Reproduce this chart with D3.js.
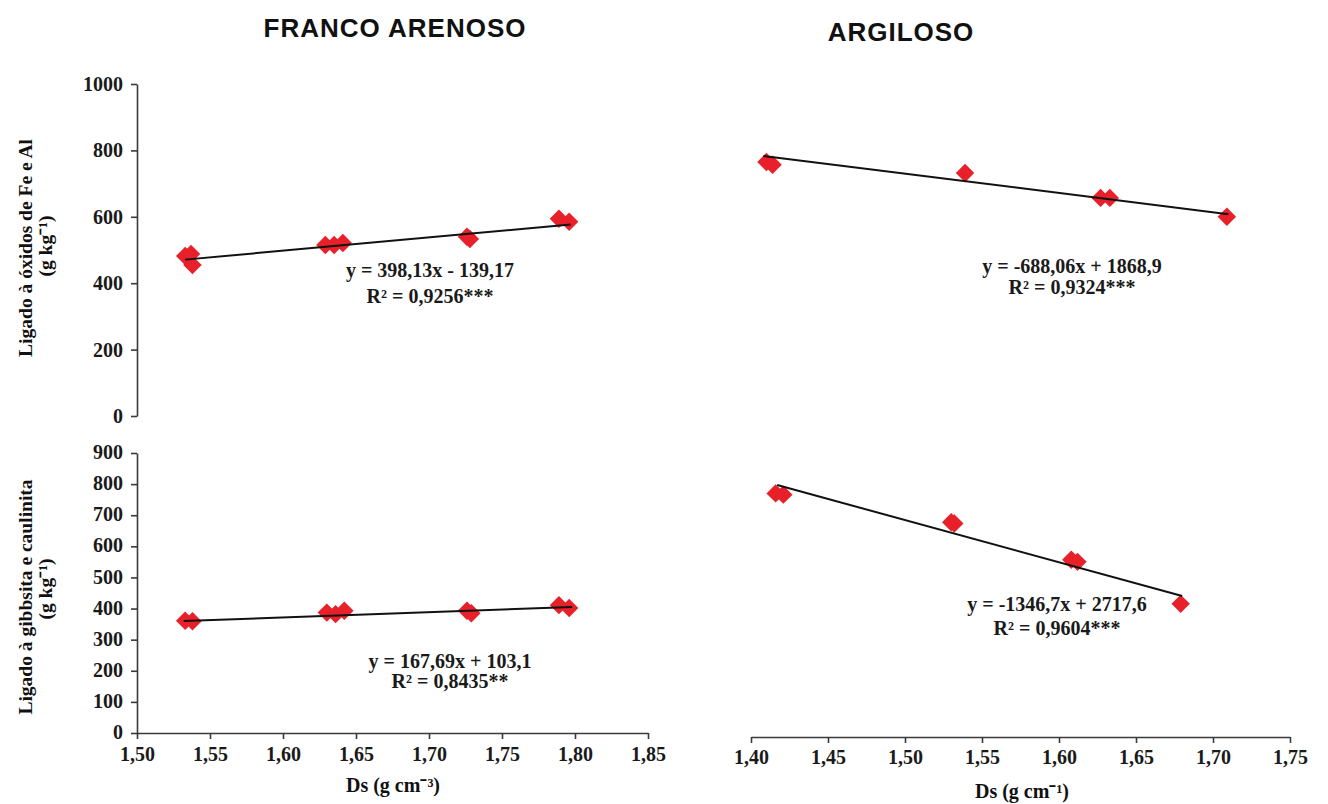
<!DOCTYPE html>
<html>
<head>
<meta charset="utf-8">
<script src="https://cdn.jsdelivr.net/npm/d3@7"></script>
<style>
  body { margin: 0; background: #fff; }
  svg { display: block; }
</style>
</head>
<body>
<div id="chart"></div>
<script>
// Franco arenoso, ligado a óxidos de Fe e Al
const faOxX = [1.533, 1.537, 1.538, 1.629, 1.635, 1.641, 1.726, 1.728, 1.789, 1.796];
const faOxY = [482, 488, 455, 515, 515, 521, 540, 533, 594, 585];
const faOxTrend = [[1.533, 471], [1.797, 577]];
// Argiloso, ligado a óxidos de Fe e Al
const arOxX = [1.410, 1.414, 1.539, 1.627, 1.633, 1.709];
const arOxY = [765, 757, 732, 657, 657, 600];
const arOxTrend = [[1.408, 783], [1.710, 608]];
// Franco arenoso, ligado a gibbsita e caulinita
const faGbX = [1.533, 1.538, 1.630, 1.636, 1.642, 1.726, 1.729, 1.789, 1.796];
const faGbY = [361, 359, 387, 382, 393, 393, 385, 411, 402];
const faGbTrend = [[1.532, 360], [1.798, 405]];
// Argiloso, ligado a gibbsita e caulinita
const arGbX = [1.416, 1.421, 1.530, 1.532, 1.608, 1.612, 1.679];
const arGbY = [783, 779, 690, 686, 570, 563, 428];
const arGbTrend = [[1.417, 810], [1.680, 453]];

const titles = ["FRANCO ARENOSO", "ARGILOSO"];
const eqs = [
  ["y = 398,13x - 139,17", "R² = 0,9256***"],
  ["y = -688,06x + 1868,9", "R² = 0,9324***"],
  ["y = 167,69x + 103,1", "R² = 0,8435**"],
  ["y = -1346,7x + 2717,6", "R² = 0,9604***"]
];
const yTitles = [["Ligado à óxidos de Fe e Al", "(g kg⁻¹)"], ["Ligado à gibbsita e caulinita", "(g kg⁻¹)"]];
const xTitles = ["Ds (g cm⁻³)", "Ds (g cm⁻¹)"];
const xTicksLeft = [1.50, 1.55, 1.60, 1.65, 1.70, 1.75, 1.80, 1.85];
const xTicksRight = [1.40, 1.45, 1.50, 1.55, 1.60, 1.65, 1.70, 1.75];
const yTicksTop = [0, 200, 400, 600, 800, 1000];
const yTicksBottom = [0, 100, 200, 300, 400, 500, 600, 700, 800, 900];

const width = 1328, height = 804;
const serif = "'Liberation Serif', 'Times New Roman', serif";
const red = "#e8202a";

const br = d3.formatLocale({decimal: ",", thousands: "", grouping: [3], currency: ["", ""]});
const fx = br.format(".2f");
const fy = br.format("d");

const xL = d3.scaleLinear().domain([1.50, 1.85]).range([137, 648]);
const xR = d3.scaleLinear().domain([1.40, 1.75]).range([751, 1290]);
const yT = d3.scaleLinear().domain([0, 1000]).range([416, 84]);
const yB = d3.scaleLinear().domain([0, 900]).range([733, 453]);
const yBR = d3.scaleLinear().domain([0, 900]).range([737, 457]);

const svg = d3.select("#chart").append("svg")
  .attr("width", width).attr("height", height)
  .attr("viewBox", [0, 0, width, height]);

function styleAxis(g) {
  g.selectAll(".domain").attr("stroke", "#3a3a3a").attr("stroke-width", 1.6);
  g.selectAll(".tick line").attr("stroke", "#3a3a3a").attr("stroke-width", 1.6);
  g.selectAll(".tick text")
    .attr("font-family", serif).attr("font-weight", "bold")
    .attr("font-size", 20).attr("fill", "#1a1a1a");
}

// eixos
svg.append("g").attr("transform", `translate(${xL(1.50)},0)`)
  .call(d3.axisLeft(yT).tickValues(yTicksTop).tickFormat(fy).tickSize(6).tickPadding(8).tickSizeOuter(0))
  .call(styleAxis);
svg.append("g").attr("transform", `translate(${xL(1.50)},0)`)
  .call(d3.axisLeft(yB).tickValues(yTicksBottom).tickFormat(fy).tickSize(6).tickPadding(8).tickSizeOuter(0))
  .call(g => g.selectAll(".tick text").attr("dy", "0.28em"))
  .call(styleAxis);
svg.append("g").attr("transform", `translate(0,${yB(0)})`)
  .call(d3.axisBottom(xL).tickValues(xTicksLeft).tickFormat(fx).tickSize(6).tickPadding(8).tickSizeOuter(0))
  .call(styleAxis);
svg.append("g").attr("transform", `translate(0,${yBR(0)})`)
  .call(d3.axisBottom(xR).tickValues(xTicksRight).tickFormat(fx).tickSize(6).tickPadding(7).tickSizeOuter(0))
  .call(styleAxis);

const panels = [
  {xs: faOxX, ys: faOxY, trend: faOxTrend, x: xL, y: yT},
  {xs: arOxX, ys: arOxY, trend: arOxTrend, x: xR, y: yT},
  {xs: faGbX, ys: faGbY, trend: faGbTrend, x: xL, y: yB},
  {xs: arGbX, ys: arGbY, trend: arGbTrend, x: xR, y: yBR}
];
const eqPos = [[430, 277, 303], [1072, 273, 294], [450, 668, 688], [1057, 611, 635]];

const diamond = d3.symbol(d3.symbolSquare, 170);
const line = d3.line();

panels.forEach((p, i) => {
  const g = svg.append("g");
  g.selectAll("path.pt")
    .data(p.xs.map((v, j) => [v, p.ys[j]]))
    .join("path")
    .attr("class", "pt")
    .attr("d", diamond)
    .attr("fill", red)
    .attr("transform", d => `translate(${p.x(d[0])},${p.y(d[1])}) rotate(45)`);
  g.append("path")
    .attr("d", line(p.trend.map(d => [p.x(d[0]), p.y(d[1])])))
    .attr("stroke", "#111").attr("stroke-width", 2).attr("fill", "none");
  const t = g.append("text")
    .attr("font-family", serif).attr("font-weight", "bold")
    .attr("font-size", 20).attr("fill", "#1a1a1a").attr("text-anchor", "middle");
  t.append("tspan").attr("x", eqPos[i][0]).attr("y", eqPos[i][1]).text(eqs[i][0]);
  t.append("tspan").attr("x", eqPos[i][0]).attr("y", eqPos[i][2]).text(eqs[i][1]);
});

// títulos
svg.selectAll("text.title")
  .data(titles)
  .join("text")
  .attr("class", "title")
  .attr("x", (d, i) => [395, 901][i])
  .attr("y", (d, i) => [37, 41][i])
  .attr("text-anchor", "middle")
  .attr("font-family", "'Liberation Sans', Arial, sans-serif")
  .attr("font-weight", "bold").attr("font-size", 26)
  .attr("letter-spacing", 1)
  .attr("fill", "#111")
  .text(d => d);

// títulos do eixo y
yTitles.forEach((tt, i) => {
  const cy = [248, 597][i];
  const t = svg.append("text")
    .attr("transform", `translate(0,${cy}) rotate(-90)`)
    .attr("text-anchor", "middle")
    .attr("font-family", serif).attr("font-weight", "bold")
    .attr("font-size", 19.5).attr("fill", "#111");
  t.append("tspan").attr("x", 0).attr("y", 32).text(tt[0]);
  t.append("tspan").attr("x", i === 0 ? 2 : 8).attr("y", 52).text(tt[1]);
});

// títulos do eixo x
svg.selectAll("text.xt")
  .data(xTitles)
  .join("text")
  .attr("class", "xt")
  .attr("x", (d, i) => [393, 1022][i])
  .attr("y", (d, i) => [792, 798][i])
  .attr("text-anchor", "middle")
  .attr("font-family", serif).attr("font-weight", "bold")
  .attr("font-size", 20).attr("fill", "#111")
  .text(d => d);
</script>
</body>
</html>
